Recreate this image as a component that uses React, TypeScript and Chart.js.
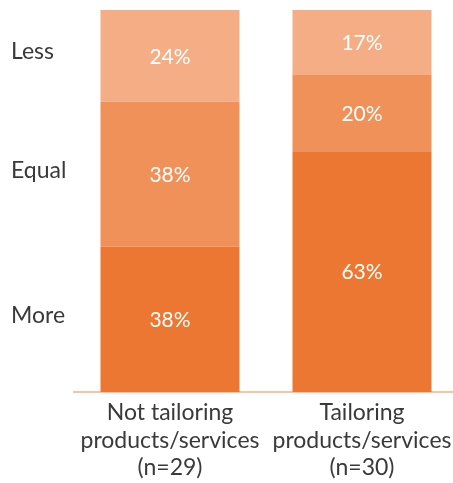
import React, { useEffect, useRef } from "react";
import { Chart, registerables } from "chart.js";

Chart.register(...registerables);

const categories: string[][] = [
  ["Not tailoring", "products/services", "(n=29)"],
  ["Tailoring", "products/services", "(n=30)"],
];
const seriesNames = ["More", "Equal", "Less"];
const moreValues = [38, 63];
const equalValues = [38, 20];
const lessValues = [24, 17];
const seriesColors = ["#EC7733", "#F0915A", "#F4AD84"];

const FONT = "Lato, 'Open Sans', sans-serif";

const labelPlugin = {
  id: "segLabels",
  afterDatasetsDraw(chart: any) {
    const ctx = chart.ctx;
    ctx.save();
    chart.data.datasets.forEach((ds: any, di: number) => {
      const meta = chart.getDatasetMeta(di);
      meta.data.forEach((el: any, i: number) => {
        const v = ds.data[i];
        const cy = (el.y + el.base) / 2;
        ctx.fillStyle = "#ffffff";
        ctx.font = `21px ${FONT}`;
        ctx.textAlign = "center";
        ctx.textBaseline = "middle";
        ctx.fillText(`${v}%`, el.x, cy + 1);
        if (i === 0) {
          ctx.fillStyle = "#3a3a3a";
          ctx.font = `23px ${FONT}`;
          ctx.textAlign = "left";
          ctx.fillText(ds.label, 11, cy - 4);
        }
      });
    });
    ctx.restore();
  },
};

export default function App() {
  const ref = useRef<HTMLCanvasElement | null>(null);
  useEffect(() => {
    if (!ref.current) return;
    const chart = new Chart(ref.current, {
      type: "bar",
      data: {
        labels: categories,
        datasets: [
          { label: seriesNames[0], data: moreValues, backgroundColor: seriesColors[0] },
          { label: seriesNames[1], data: equalValues, backgroundColor: seriesColors[1] },
          { label: seriesNames[2], data: lessValues, backgroundColor: seriesColors[2] },
        ],
      },
      options: {
        animation: false,
        responsive: false,
        layout: { padding: { left: 74, right: 12, top: 10, bottom: 0 } },
        plugins: { legend: { display: false }, tooltip: { enabled: false } },
        datasets: { bar: { categoryPercentage: 1, barPercentage: 0.724 } },
        scales: {
          x: {
            stacked: true,
            grid: { display: false, drawTicks: false },
            border: { display: true, color: "#F8C4A6", width: 2 },
            ticks: {
              color: "#3a3a3a",
              font: { family: FONT, size: 23, lineHeight: 1.2 },
              padding: 7,
              maxRotation: 0,
              autoSkip: false,
            },
            afterFit: (scale: any) => {
              scale.height = 91;
            },
          },
          y: {
            stacked: true,
            display: false,
            min: 0,
            max: 100,
          },
        },
      },
      plugins: [labelPlugin],
    });
    return () => chart.destroy();
  }, []);
  return (
    <div
      style={{
        position: "fixed",
        left: 0,
        top: 0,
        width: 453,
        height: 483,
        overflow: "hidden",
        background: "#fff",
      }}
    >
      <canvas ref={ref} width={470} height={483} style={{ display: "block" }} />
    </div>
  );
}
